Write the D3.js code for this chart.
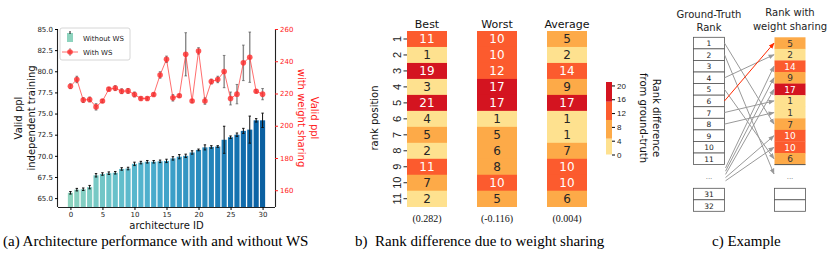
<!DOCTYPE html>
<html>
<head>
<meta charset="utf-8">
<script src="https://cdn.jsdelivr.net/npm/d3@7"></script>
<style>
  body { margin: 0; background: #fff; }
  svg { display: block; font-family: "DejaVu Sans", sans-serif; }
  .serif { font-family: "Liberation Serif", "Times New Roman", serif; }
</style>
</head>
<body>
<svg id="chart" width="830" height="256"></svg>
<script>
// ---- panel (a) data ----
const archIds = d3.range(0, 31);
const withoutWS = [65.63, 66.0, 66.05, 66.3, 67.7, 67.85, 67.95, 68.0, 68.45, 68.5, 69.05, 69.2, 69.3, 69.3, 69.35, 69.4,
  69.7, 69.9, 70.0, 70.4, 70.7, 71.0, 71.05, 71.1, 71.9, 72.2, 72.5, 72.95, 73.1, 74.2, 74.2];
const withoutWSErr = [0.15, 0.15, 0.15, 0.2, 0.2, 0.15, 0.15, 0.15, 0.15, 0.15, 0.2, 0.15, 0.15, 0.15, 0.15, 0.2,
  0.2, 0.25, 0.2, 0.2, 0.1, 0.3, 0.15, 0.1, 1.6, 0.15, 0.2, 0.3, 1.6, 0.2, 0.85];
const withWS = [224.5, 228.7, 215.9, 216.3, 211.7, 215.3, 222.7, 223.3, 221.4, 221.6, 219.4, 216.9, 216.9, 219.4, 231.5, 241.2,
  217.3, 218.6, 244.3, 215.3, 246.4, 215.3, 227.4, 228.7, 233.6, 216.9, 219.6, 239.0, 242.5, 221.4, 219.6];
const withWSErr = [1.5, 2, 1.5, 1.5, 2, 1, 1, 1.5, 1.5, 1.5, 1.5, 1, 1, 1, 2, 2,
  2, 1, 13.4, 1, 2, 2, 1.5, 2, 10, 4, 6, 11, 15.6, 1, 3.5];
const leftTicks = [65.0, 67.5, 70.0, 72.5, 75.0, 77.5, 80.0, 82.5, 85.0];
const rightTicks = [160, 180, 200, 220, 240, 260];
const xTicks = [0, 5, 10, 15, 20, 25, 30];

// ---- panel (b) data ----
const rankPositions = d3.range(1, 12);
const heatColumns = ['Best', 'Worst', 'Average'];
const bestDiff = [11, 1, 19, 3, 21, 4, 5, 2, 11, 7, 2];
const worstDiff = [10, 10, 12, 17, 17, 1, 5, 6, 8, 10, 5];
const averageDiff = [5, 2, 14, 9, 17, 1, 1, 7, 10, 10, 6];
const correlations = ['(0.282)', '(-0.116)', '(0.004)'];
const cbTicks = [0, 4, 8, 12, 16, 20];

// ---- panel (c) data ----
const gtRanks = d3.range(1, 12);
const gtTail = [31, 32];
// [ground-truth row, weight-sharing row]; 'dots' = the "..." gap
const rankLinks = [[1, 8], [2, 'dots'], [4, 2], [5, 11], [7, 6], [8, 7],
  ['dots', 3], ['dots', 4], ['dots', 5], ['dots', 9], ['dots', 10], [6, 1]];

const svg = d3.select('#chart');

// ================= panel (a) =================
const A = { left: 58, right: 275, top: 29, bottom: 207 };
const xA = d3.scaleLinear().domain([-1.94, 31.94]).range([A.left, A.right]);
const yL = d3.scaleLinear().domain([63.95, 85]).range([A.bottom, A.top]);
const yR = d3.scaleLinear().domain([149.6, 260]).range([A.bottom, A.top]);
// GnBu from ~0.45 (first bar) to ~0.9 (last bar)
const barColor = d3.scaleSequential(d3.interpolateGnBu).domain([-30, 36.7]);
const bw = xA(0.4) - xA(-0.4);

const ga = svg.append('g');
ga.selectAll('rect.bar').data(archIds).join('rect')
  .attr('class', 'bar')
  .attr('x', i => xA(i) - bw / 2).attr('width', bw)
  .attr('y', i => yL(withoutWS[i])).attr('height', i => A.bottom - yL(withoutWS[i]))
  .attr('fill', i => barColor(i));

ga.selectAll('line.berr').data(archIds).join('line')
  .attr('class', 'berr')
  .attr('x1', i => xA(i)).attr('x2', i => xA(i))
  .attr('y1', i => yL(withoutWS[i] - withoutWSErr[i])).attr('y2', i => yL(withoutWS[i] + withoutWSErr[i]))
  .attr('stroke', '#111').attr('stroke-width', 1);
[-1, 1].forEach(s => {
  ga.selectAll('line.bcap' + s).data(archIds).join('line')
    .attr('x1', i => xA(i) - 1.2).attr('x2', i => xA(i) + 1.2)
    .attr('y1', i => yL(withoutWS[i] + s * withoutWSErr[i])).attr('y2', i => yL(withoutWS[i] + s * withoutWSErr[i]))
    .attr('stroke', '#111').attr('stroke-width', 1);
});

// red series with gray error bars
ga.selectAll('line.rerr').data(archIds).join('line')
  .attr('x1', i => xA(i)).attr('x2', i => xA(i))
  .attr('y1', i => yR(withWS[i] - withWSErr[i])).attr('y2', i => yR(withWS[i] + withWSErr[i]))
  .attr('stroke', '#555').attr('stroke-opacity', 0.7).attr('stroke-width', 1.4);
[-1, 1].forEach(s => {
  ga.selectAll('line.rcap' + s).data(archIds).join('line')
    .attr('x1', i => xA(i) - 1.3).attr('x2', i => xA(i) + 1.3)
    .attr('y1', i => yR(withWS[i] + s * withWSErr[i])).attr('y2', i => yR(withWS[i] + s * withWSErr[i]))
    .attr('stroke', '#555').attr('stroke-opacity', 0.7).attr('stroke-width', 1);
});
ga.append('path').datum(archIds)
  .attr('d', d3.line().x(i => xA(i)).y(i => yR(withWS[i])))
  .attr('fill', 'none').attr('stroke', '#ff3030').attr('stroke-opacity', 0.7).attr('stroke-width', 1);
ga.selectAll('circle.pt').data(archIds).join('circle')
  .attr('cx', i => xA(i)).attr('cy', i => yR(withWS[i])).attr('r', 2.8)
  .attr('fill', '#ff2a2a').attr('fill-opacity', 0.8);

// axes
const axL = ga.append('g').attr('transform', `translate(${A.left},0)`)
  .call(d3.axisLeft(yL).tickValues(leftTicks).tickFormat(d3.format('.1f')).tickSize(3).tickPadding(2));
const axR = ga.append('g').attr('transform', `translate(${A.right},0)`)
  .call(d3.axisRight(yR).tickValues(rightTicks).tickSize(3).tickPadding(2));
const axB = ga.append('g').attr('transform', `translate(0,${A.bottom})`)
  .call(d3.axisBottom(xA).tickValues(xTicks).tickSize(3).tickPadding(2));
[axL, axR, axB].forEach(ax => {
  ax.select('.domain').attr('stroke', '#222').attr('stroke-width', 1.1);
  ax.selectAll('text').attr('font-size', 7).attr('font-family', 'DejaVu Sans').attr('fill', '#222');
});
axR.selectAll('text').attr('fill', '#ff2020');
axR.selectAll('.tick line').attr('stroke', '#ff2020');
axL.select('.domain').attr('d', `M-0.5,${A.bottom}V${A.top}`);
axR.select('.domain').attr('d', `M0.5,${A.bottom}V${A.top}`);
axB.select('.domain').attr('d', `M${A.left},0.5H${A.right}`);

ga.append('text').attr('x', (A.left + A.right) / 2).attr('y', 228.5).attr('text-anchor', 'middle')
  .attr('font-size', 10).attr('fill', '#111').text('architecture ID');
const yl = ga.append('text').attr('transform', 'translate(22,118) rotate(-90)').attr('text-anchor', 'middle')
  .attr('font-size', 10).attr('fill', '#111');
yl.append('tspan').attr('x', 0).attr('dy', 0).text('Valid ppl');
yl.append('tspan').attr('x', 0).attr('dy', 13).text('independent training');
const yr = ga.append('text').attr('transform', 'translate(311,118) rotate(90)').attr('text-anchor', 'middle')
  .attr('font-size', 10).attr('fill', '#ff2020');
yr.append('tspan').attr('x', 0).attr('dy', 0).text('Valid ppl');
yr.append('tspan').attr('x', 0).attr('dy', 13).text('with weight sharing');

// legend
const lg = ga.append('g');
lg.append('rect').attr('x', 60).attr('y', 28).attr('width', 70).attr('height', 32).attr('rx', 2)
  .attr('fill', '#fff').attr('fill-opacity', 0.85).attr('stroke', '#ccc').attr('stroke-width', 0.8);
lg.append('rect').attr('x', 67).attr('y', 33).attr('width', 6).attr('height', 9).attr('fill', barColor(0));
lg.append('line').attr('x1', 70).attr('x2', 70).attr('y1', 31).attr('y2', 34).attr('stroke', '#111');
lg.append('line').attr('x1', 62).attr('x2', 78).attr('y1', 52).attr('y2', 52).attr('stroke', '#ff3030').attr('stroke-opacity', 0.7);
lg.append('line').attr('x1', 70).attr('x2', 70).attr('y1', 48).attr('y2', 56).attr('stroke', '#555').attr('stroke-opacity', 0.7);
lg.append('circle').attr('cx', 70).attr('cy', 52).attr('r', 2.8).attr('fill', '#ff2a2a').attr('fill-opacity', 0.8);
lg.append('text').attr('x', 83).attr('y', 41).attr('font-size', 7).attr('fill', '#222').text('Without WS');
lg.append('text').attr('x', 83).attr('y', 55).attr('font-size', 7).attr('fill', '#222').text('With WS');

svg.append('text').attr('class', 'serif').attr('x', 3).attr('y', 246).attr('font-size', 15).attr('fill', '#000')
  .text('(a) Architecture performance with and without WS');

// ================= panel (b) =================
const heatValues = { Best: bestDiff, Worst: worstDiff, Average: averageDiff };
const xB = d3.scaleBand().domain(heatColumns).range([407, 587]).paddingInner(30 / 70);
const yB = d3.scaleBand().domain(rankPositions).range([31, 206.7]);
const heatColor = d3.scaleThreshold().domain([4.6, 10, 15.3]).range(['#fee18f', '#fdaa48', '#fc5b2e', '#d41420']);

const gb = svg.append('g');
heatColumns.forEach((col, ci) => {
  const g = gb.append('g');
  g.selectAll('rect').data(rankPositions).join('rect')
    .attr('x', xB(col)).attr('width', xB.bandwidth())
    .attr('y', r => yB(r)).attr('height', yB.bandwidth() + 0.3)
    .attr('fill', r => heatColor(heatValues[col][r - 1]));
  g.selectAll('text.val').data(rankPositions).join('text')
    .attr('class', 'val')
    .attr('x', xB(col) + xB.bandwidth() / 2).attr('y', r => yB(r) + yB.bandwidth() / 2 + 4.3)
    .attr('text-anchor', 'middle').attr('font-size', 12)
    .attr('fill', r => heatValues[col][r - 1] >= 10 ? '#fff' : '#262626')
    .text(r => heatValues[col][r - 1]);
  g.append('text').attr('x', xB(col) + xB.bandwidth() / 2).attr('y', 28).attr('text-anchor', 'middle')
    .attr('font-size', 11).attr('fill', '#111').text(col);
  g.append('text').attr('class', 'serif').attr('x', xB(col) + xB.bandwidth() / 2).attr('y', 222)
    .attr('text-anchor', 'middle').attr('font-size', 10).attr('fill', '#111').text(correlations[ci]);
});
// row axis
const axRow = gb.append('g').attr('transform', `translate(${xB('Best')},0)`)
  .call(d3.axisLeft(yB).tickSize(3.5).tickPadding(2));
axRow.select('.domain').remove();
axRow.selectAll('.tick line').attr('stroke', '#222');
axRow.selectAll('text').attr('font-size', 11).attr('fill', '#222')
  .attr('text-anchor', 'middle').attr('x', 0).attr('dy', 0)
  .attr('transform', 'translate(-10,0) rotate(-90)').attr('y', 4);
gb.append('text').attr('transform', 'translate(378,118) rotate(-90)').attr('text-anchor', 'middle')
  .attr('font-size', 10).attr('fill', '#111').text('rank position');

// colorbar
const cbY = d3.scaleLinear().domain([0, 21]).range([154.5, 82]);
const cbX = 606, cbW = 6;
gb.selectAll('rect.cb').data(heatColor.range()).join('rect')
  .attr('class', 'cb')
  .attr('x', cbX).attr('width', cbW)
  .attr('y', c => { const e = heatColor.invertExtent(c); return cbY(e[1] === undefined ? 21 : e[1]); })
  .attr('height', c => { const e = heatColor.invertExtent(c);
    return cbY(e[0] === undefined ? 0 : e[0]) - cbY(e[1] === undefined ? 21 : e[1]); })
  .attr('fill', c => c);
const axCb = gb.append('g').attr('transform', `translate(${cbX + cbW},0)`)
  .call(d3.axisRight(cbY).tickValues(cbTicks).tickSize(3).tickPadding(2));
axCb.select('.domain').remove();
axCb.selectAll('text').attr('font-size', 8).attr('fill', '#222');
const cbl = gb.append('text').attr('transform', 'translate(653,118) rotate(90)').attr('text-anchor', 'middle')
  .attr('font-size', 10).attr('fill', '#111');
cbl.append('tspan').attr('x', 0).attr('dy', 0).text('Rank difference');
cbl.append('tspan').attr('x', 0).attr('dy', 13).text('from ground-truth');

svg.append('text').attr('class', 'serif').attr('x', 355).attr('y', 246).attr('font-size', 15).attr('fill', '#000')
  .attr('xml:space', 'preserve').text('b)  Rank difference due to weight sharing');

// ================= panel (c) =================
const gc = svg.append('g');
const yC = d3.scaleBand().domain(gtRanks).range([37.3, 164.6]);
const yTail = d3.scaleBand().domain([0, 1]).range([188.3, 211.3]);
const gtX = 693.5, wsX = 774.5, boxW = 31;
const dotsY = 177;

gc.selectAll('rect.gt').data(gtRanks).join('rect')
  .attr('x', gtX).attr('width', boxW).attr('y', r => yC(r)).attr('height', yC.bandwidth())
  .attr('fill', '#fff').attr('stroke', '#555').attr('stroke-width', 0.8);
gc.selectAll('text.gt').data(gtRanks).join('text')
  .attr('x', gtX + boxW / 2).attr('y', r => yC(r) + yC.bandwidth() / 2 + 3)
  .attr('text-anchor', 'middle').attr('font-size', 7.5).attr('fill', '#222').text(r => r);
gc.selectAll('rect.gtt').data(gtTail).join('rect')
  .attr('x', gtX).attr('width', boxW).attr('y', (r, i) => yTail(i)).attr('height', yTail.bandwidth())
  .attr('fill', '#fff').attr('stroke', '#555').attr('stroke-width', 0.8);
gc.selectAll('text.gtt').data(gtTail).join('text')
  .attr('x', gtX + boxW / 2).attr('y', (r, i) => yTail(i) + yTail.bandwidth() / 2 + 3)
  .attr('text-anchor', 'middle').attr('font-size', 7.5).attr('fill', '#222').text(r => r);

gc.selectAll('rect.ws').data(gtRanks).join('rect')
  .attr('x', wsX).attr('width', boxW).attr('y', r => yC(r)).attr('height', yC.bandwidth() + 0.3)
  .attr('fill', r => heatColor(averageDiff[r - 1]));
gc.selectAll('text.ws').data(gtRanks).join('text')
  .attr('x', wsX + boxW / 2).attr('y', r => yC(r) + yC.bandwidth() / 2 + 3.5)
  .attr('text-anchor', 'middle').attr('font-size', 9)
  .attr('fill', r => averageDiff[r - 1] >= 10 ? '#fff' : '#333').text(r => averageDiff[r - 1]);
gc.append('line').attr('x1', wsX).attr('x2', wsX + boxW).attr('y1', 164.6).attr('y2', 164.6).attr('stroke', '#555');
gc.selectAll('rect.wst').data([0, 1]).join('rect')
  .attr('x', wsX).attr('width', boxW).attr('y', i => yTail(i)).attr('height', yTail.bandwidth())
  .attr('fill', '#fff').attr('stroke', '#555').attr('stroke-width', 0.8);

gc.append('text').attr('x', gtX + boxW / 2).attr('y', dotsY + 2).attr('text-anchor', 'middle')
  .attr('font-size', 7).attr('fill', '#777').text('...');
gc.append('text').attr('x', wsX + boxW / 2).attr('y', dotsY + 2).attr('text-anchor', 'middle')
  .attr('font-size', 7).attr('fill', '#777').text('...');

const defs = svg.append('defs');
[['gray', '#999'], ['red', '#ff2a00']].forEach(([id, c]) => {
  defs.append('marker').attr('id', 'arr-' + id).attr('viewBox', '0 0 10 10').attr('refX', 9).attr('refY', 5)
    .attr('markerWidth', 6).attr('markerHeight', 6).attr('orient', 'auto-start-reverse')
    .append('path').attr('d', 'M0,1L10,5L0,9z').attr('fill', c);
});
let dotIdx = 0;
gc.selectAll('line.link').data(rankLinks).join('line')
  .attr('x1', d => d[0] === 'dots' ? gtX + boxW + 1 : gtX + boxW)
  .attr('y1', d => d[0] === 'dots' ? 168 + 3.2 * (dotIdx++) : yC(d[0]) + yC.bandwidth() / 2)
  .attr('x2', wsX - 0.5)
  .attr('y2', d => d[1] === 'dots' ? dotsY - 3 : yC(d[1]) + yC.bandwidth() / 2)
  .attr('stroke', d => d[0] === 6 ? '#ff2a00' : '#999').attr('stroke-width', 1)
  .attr('marker-end', d => d[0] === 6 ? 'url(#arr-red)' : 'url(#arr-gray)');

const t1 = gc.append('text').attr('text-anchor', 'middle').attr('font-size', 10).attr('fill', '#222');
t1.append('tspan').attr('x', gtX + boxW / 2).attr('y', 18).text('Ground-Truth');
t1.append('tspan').attr('x', gtX + boxW / 2).attr('y', 31).text('Rank');
const t2 = gc.append('text').attr('text-anchor', 'middle').attr('font-size', 10).attr('fill', '#222');
t2.append('tspan').attr('x', wsX + boxW / 2).attr('y', 16).text('Rank with');
t2.append('tspan').attr('x', wsX + boxW / 2).attr('y', 30).text('weight sharing');

svg.append('text').attr('class', 'serif').attr('x', 712).attr('y', 246).attr('font-size', 15).attr('fill', '#000')
  .text('c) Example');
</script>
</body>
</html>
